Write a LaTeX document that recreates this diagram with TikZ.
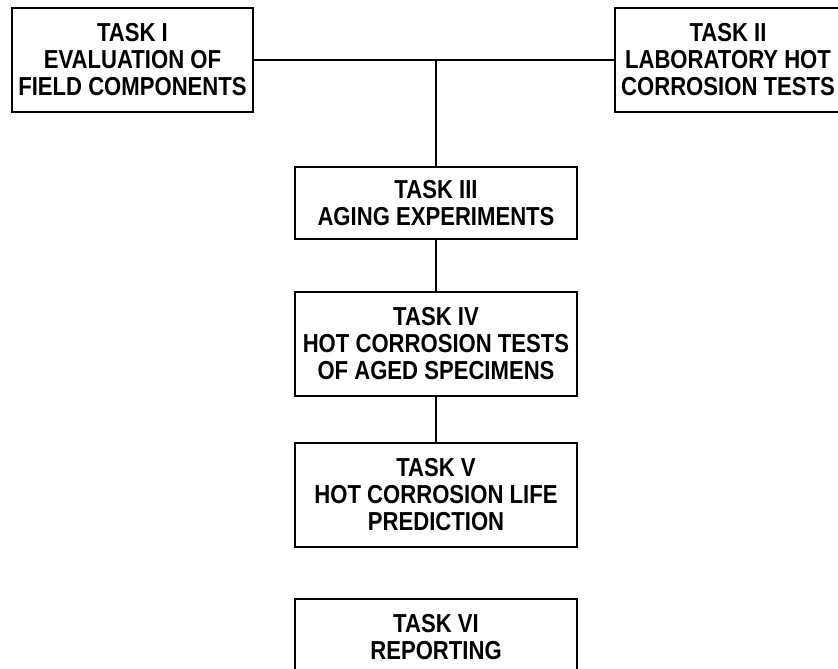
\documentclass[tikz,border=0pt]{standalone}
\usepackage{fontspec}
\setmainfont[FakeStretch=0.85]{Liberation Sans}

\begin{document}
\begin{tikzpicture}[x=1pt,y=-1pt,line width=2.5pt,
    task/.style={draw, line width=2.5pt, align=center, inner sep=0pt, minimum width=241pt, minimum height=104pt, font=\bfseries\fontsize{26}{27}\selectfont},
    midtask/.style={task, minimum width=282pt}]
    \useasboundingbox (0,0) rectangle (838,669);
    \node[task] (T1) at (132.5,60) {TASK I\\EVALUATION OF\\FIELD COMPONENTS};
    \node[task, minimum width=226pt] (T2) at (728,60) {TASK II\\LABORATORY HOT\\CORROSION TESTS};
    \node[midtask, minimum height=72pt] (T3) at (436,203) {TASK III\\AGING EXPERIMENTS};
    \node[midtask] (T4) at (436,344) {TASK IV\\HOT CORROSION TESTS\\OF AGED SPECIMENS};
    \node[midtask] (T5) at (436,495) {TASK V\\HOT CORROSION LIFE\\PREDICTION};
    \node[midtask, minimum height=76pt] (T6) at (436,637) {TASK VI\\REPORTING};
    \coordinate (J) at (436,60);
    \draw (T1) -- (T2);
    \draw (J) -- (T3);
    \draw (T3) -- (T4);
    \draw (T4) -- (T5);
\end{tikzpicture}
\end{document}
